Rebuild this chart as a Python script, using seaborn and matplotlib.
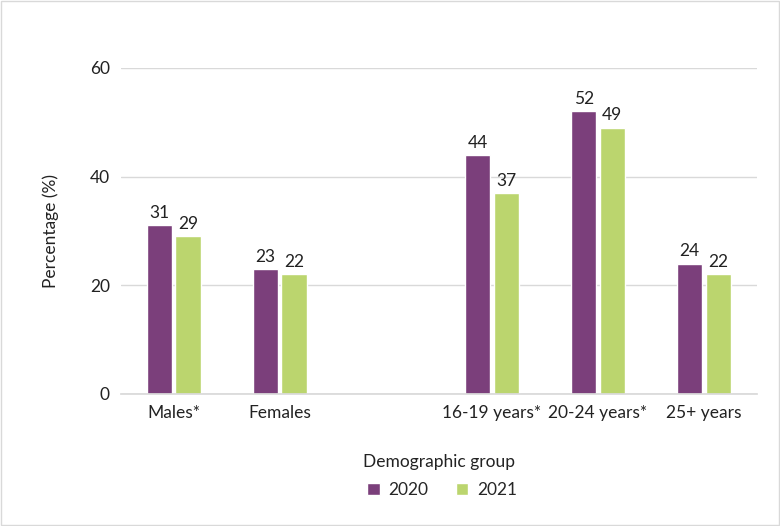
import pandas as pd
import seaborn as sns
import matplotlib.pyplot as plt

# data ("" is the empty spacer slot)
groups = ["Males*", "Females", "", "16-19 years*", "20-24 years*", "25+ years"]
years = ["2020", "2021"]
values_2020 = [31, 23, None, 44, 52, 24]
values_2021 = [29, 22, None, 37, 49, 22]
y_ticks = [0, 20, 40, 60]

colors = {"2020": "#7B3F7B", "2021": "#BBD56E"}

df = pd.DataFrame({
    "group": groups * 2,
    "year": ["2020"] * len(groups) + ["2021"] * len(groups),
    "value": values_2020 + values_2021,
})

sns.set_theme(style="white")
plt.rcParams["font.family"] = ["Lato", "DejaVu Sans"]

fig = plt.figure(figsize=(7.8, 5.26), dpi=100)
ax = fig.add_axes([0.155, 0.251, 0.8155, 0.62])

sns.barplot(data=df.dropna(), x="group", y="value", hue="year", order=groups,
            hue_order=years, palette=colors, width=0.54, gap=0.11,
            saturation=1, ax=ax, legend=True)

for cont in ax.containers:
    ax.bar_label(cont, fmt="%d", padding=3, fontsize=12.5, color="#222222")

ax.set_ylim(0, 60)
ax.set_xlim(-0.5, len(groups) - 0.5)
ax.set_yticks(y_ticks)
ax.yaxis.grid(True, color="#D9D9D9", linewidth=1)
ax.set_axisbelow(True)
for s in ["top", "right", "left"]:
    ax.spines[s].set_visible(False)
ax.spines["bottom"].set_color("#D9D9D9")
ax.tick_params(axis="both", length=0, labelsize=12.5, colors="#222222", pad=8)

ax.set_xlabel("Demographic group", fontsize=12.5, color="#222222", labelpad=24)
ax.set_ylabel("Percentage (%)", fontsize=12.5, color="#222222", labelpad=22)

ax.legend(loc="upper center", bbox_to_anchor=(0.505, -0.222), ncol=2, frameon=False,
          fontsize=12.5, handlelength=0.7, handleheight=0.7, handletextpad=0.5,
          columnspacing=1.6, title=None)

fig.patches.append(plt.Rectangle((0.001, 0.001), 0.998, 0.998, transform=fig.transFigure,
                                 fill=False, edgecolor="#D9D9D9", linewidth=1))

plt.savefig("out.png", dpi=100)
